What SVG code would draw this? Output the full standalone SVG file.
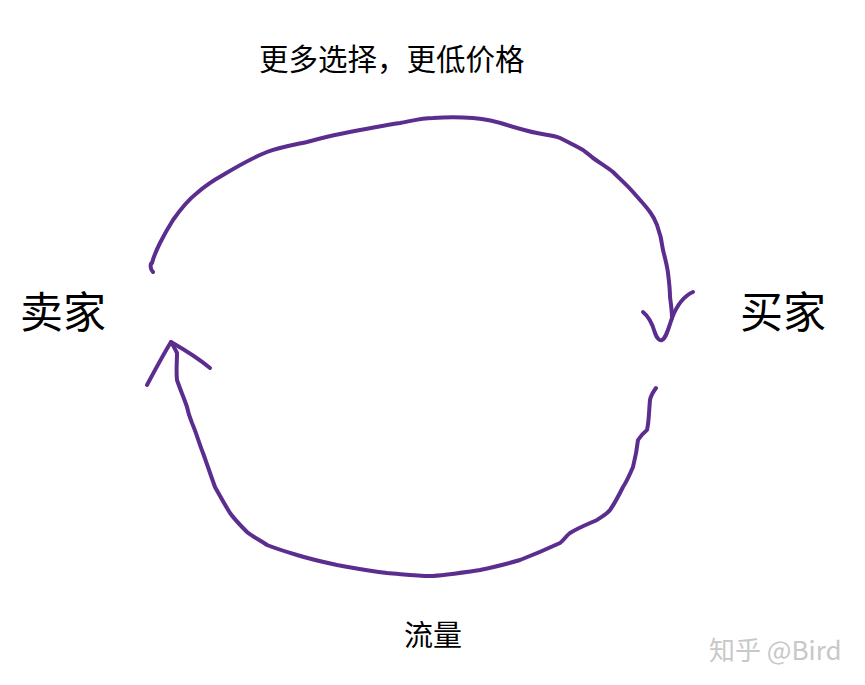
<svg xmlns="http://www.w3.org/2000/svg" width="865" height="685" viewBox="0 0 865 685">
<style>
.t{font-family:"Noto Sans CJK SC","Noto Sans",sans-serif;fill:#000}
.c{fill:none;stroke:#5b2d8e;stroke-width:4;stroke-linecap:round;stroke-linejoin:round}
.wm{font-family:"Noto Sans CJK SC","Noto Sans",sans-serif;fill:#c8c8c8;font-size:26px}
</style>
<rect width="865" height="685" fill="#fff"/>
<g id="seller"><text class="t" x="20" y="328" font-size="43">卖家</text></g>
<g id="buyer"><text class="t" x="740" y="328" font-size="43">买家</text></g>
<g id="label-top"><text class="t" x="259" y="70" font-size="29.5">更多选择，更低价格</text></g>
<g id="label-bottom"><text class="t" x="404" y="646" font-size="29">流量</text></g>
<g id="connectors">
<path class="c" d="M153,272 C149,268 151,262 152,263 C154,255 157,249 160,243 C164,235 168,228 173,220 C180,210 188,200 197,193 C205,186 214,180 223,175 C238,166 252,158 267,152 C280,147 294,145 307,142 C318,139 329,136 340,134 C360,130 380,126 400,123 C411,121 422,118 433,118 C446,117 460,117 473,118 C484,119 495,121 507,125 C517,128 527,131 537,133 C545,135 553,135 560,138 C568,142 576,146 583,150 C587,153 590,155 593,158 C600,163 607,167 613,172 C620,179 627,185 633,192 C639,199 645,205 650,212 C653,216 655,220 657,225 C660,233 662,242 663,250 C665,258 667,265 668,273 C669,281 670,289 670,297 C671,304 672,311 672,318"/>
<path class="c" d="M643,312 C648,316 652,322 655,333 C657,339 660,341 662,340 C666,338 668,330 672,318 C677,305 684,296 693,292"/>
<path class="c" d="M656,388 C653,392 651,395 650,400 C649,410 649,422 647,430 C642,434 640,437 638,440 C637,449 635,459 633,467 C630,474 627,481 623,487 C619,495 615,503 610,510 C606,515 601,517 597,520 C588,524 578,528 570,533 C566,536 564,540 560,543 C547,549 533,555 520,560 C507,564 494,567 480,570 C460,573 440,576 430,576 C416,576 401,574 387,573 C370,571 354,568 337,565 C323,562 310,559 297,555 C287,552 277,549 267,545 C260,540 253,537 247,532 C241,526 235,520 230,513 C225,505 220,496 215,487 C211,476 207,464 203,453 C199,443 196,432 192,423 C190,418 188,412 187,407 C184,398 180,389 177,380 C176,371 177,362 177,353 C175,349 173,345 171,342"/>
<path class="c" d="M147,385 C155,370 163,355 171,342 C185,350 198,358 210,368"/>
</g>
<g id="watermark"><text class="wm" x="709" y="660">知乎 @Bird</text></g>
</svg>
